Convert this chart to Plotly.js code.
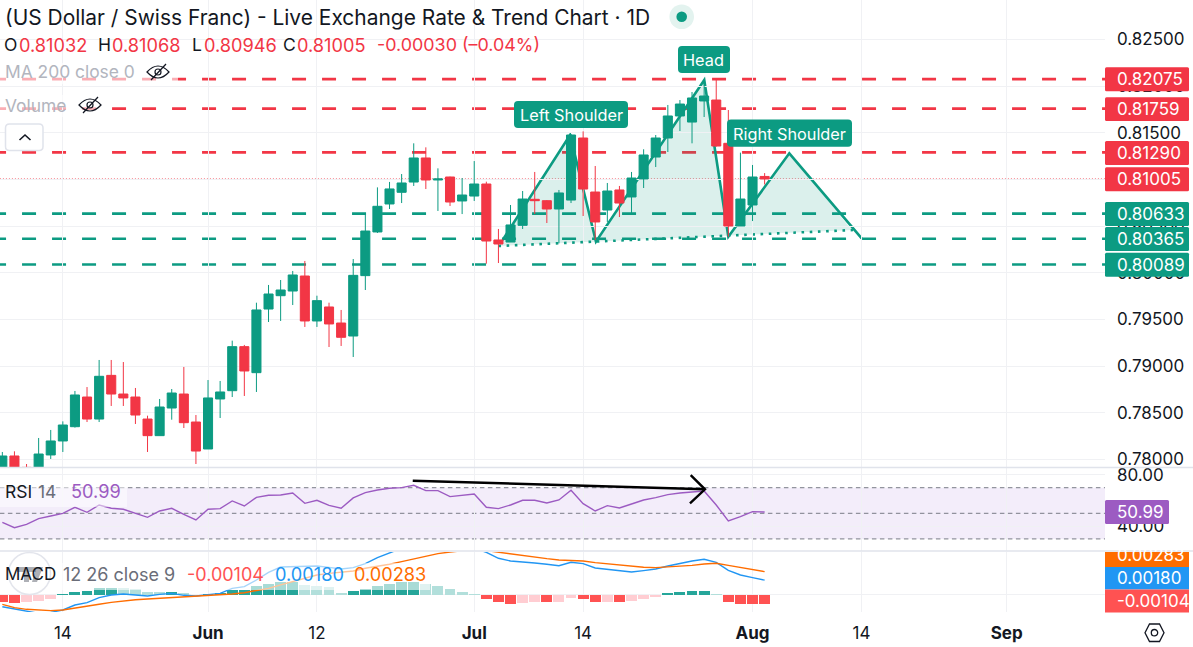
<!DOCTYPE html>
<html>
<head>
<meta charset="utf-8">
<script src="https://cdn.plot.ly/plotly-3.0.1.min.js"></script>
<style>
  html, body { margin: 0; padding: 0; background: #fff; }
  #chart { width: 1193px; height: 647px; }
</style>
</head>
<body>
<div id="chart"></div>
<script>
const open = [0.77814,0.78036,0.77914,0.77886,0.78047,0.78197,0.7835,0.78668,0.78432,0.789,0.787,0.78668,0.78432,0.78254,0.7855,0.787,0.784,0.78111,0.78647,0.78736,0.79208,0.78929,0.79611,0.79754,0.79804,0.79965,0.79483,0.79633,0.79461,0.79322,0.79969,0.80437,0.80737,0.80862,0.80972,0.8123,0.80994,0.81026,0.80769,0.80822,0.80951,0.80351,0.80329,0.80508,0.80787,0.80772,0.80683,0.80779,0.81444,0.80865,0.80672,0.80887,0.80812,0.81005,0.8124,0.81444,0.8168,0.81615,0.81841,0.81851,0.81387,0.80501,0.80726,0.81032];
const high = [0.78079,0.78086,0.7795,0.78229,0.78315,0.78407,0.78733,0.78775,0.79065,0.79065,0.79043,0.78765,0.78468,0.78647,0.78754,0.7899,0.78475,0.7885,0.7884,0.79272,0.79226,0.79679,0.79869,0.79922,0.80019,0.80126,0.79754,0.79679,0.79601,0.80147,0.80619,0.80915,0.80973,0.81058,0.81387,0.81344,0.81119,0.8103,0.81015,0.81197,0.80976,0.80469,0.80726,0.80876,0.8108,0.80779,0.80887,0.81487,0.81515,0.81144,0.80962,0.8093,0.8108,0.81323,0.81476,0.81798,0.81851,0.81937,0.82066,0.82066,0.81744,0.81287,0.81155,0.81068];
const low = [0.77797,0.77797,0.77797,0.7785,0.78004,0.78079,0.7834,0.784,0.784,0.78572,0.78572,0.78379,0.78079,0.78254,0.78425,0.78336,0.7795,0.78111,0.78443,0.78668,0.78679,0.78722,0.79472,0.79483,0.79654,0.79419,0.79419,0.79204,0.79215,0.79097,0.79815,0.80426,0.80683,0.80747,0.8093,0.80897,0.80662,0.80715,0.80629,0.80769,0.80097,0.80104,0.80329,0.80469,0.80629,0.80533,0.80315,0.80747,0.80608,0.80351,0.80544,0.80597,0.80629,0.80908,0.81133,0.81294,0.81519,0.81387,0.81669,0.81351,0.80386,0.80501,0.80554,0.80946];
const close = [0.78036,0.77814,0.77814,0.78057,0.78197,0.78368,0.7869,0.78432,0.7889,0.787,0.78658,0.78475,0.78254,0.78561,0.78711,0.78393,0.78089,0.78658,0.78722,0.79208,0.78947,0.79601,0.79772,0.79815,0.79976,0.79483,0.79701,0.79451,0.79308,0.79972,0.80447,0.80712,0.80898,0.80962,0.8123,0.80994,0.81005,0.80758,0.80833,0.80951,0.8034,0.80308,0.80512,0.8079,0.80772,0.80683,0.80855,0.81476,0.80897,0.80544,0.80876,0.80747,0.81015,0.81262,0.81444,0.8168,0.81808,0.81873,0.81894,0.81358,0.80501,0.8079,0.81026,0.81005];

const rsi = [42.97,38.8,41.41,45.83,47.92,50,54.69,50.78,56.51,53.91,53.13,50,46.88,51.82,53.91,49.22,44.79,53.13,53.65,59.64,55.73,62.5,64.06,64.32,65.89,57.81,60.16,56.25,53.91,61.98,66.15,68.23,69.53,70.05,71.88,67.71,67.71,63.02,64.06,65.1,54.69,53.65,56.51,60.16,60.16,58.07,60.42,67.97,57.55,51.82,55.99,54.17,57.29,60.42,62.24,64.58,65.89,66.67,67.45,56.51,44.01,47.4,51.3,50.99];

const macdLine = [-0.00142,-0.0017,-0.00203,-0.00223,-0.00211,-0.00182,-0.00122,-0.00093,-0.00032,0,0.00012,0,-0.00012,0.00008,0.0002,-0.00004,-0.00012,0.00004,0.0002,0.00081,0.00101,0.00182,0.00275,0.0034,0.00344,0.00352,0.00352,0.00336,0.00316,0.00332,0.00381,0.00454,0.00518,0.00567,0.00608,0.00624,0.00624,0.00608,0.00591,0.00567,0.00518,0.00446,0.00413,0.00405,0.00389,0.00373,0.00356,0.00397,0.00381,0.00328,0.00312,0.00288,0.00279,0.00296,0.00316,0.00352,0.00385,0.00413,0.00433,0.00397,0.003,0.00243,0.00211,0.0018];
const signalLine = [-0.00113,-0.00154,-0.00174,-0.00186,-0.0019,-0.00182,-0.00162,-0.00142,-0.00113,-0.00089,-0.00069,-0.00057,-0.00049,-0.00041,-0.00032,-0.00028,-0.0002,-0.00012,0,0.00012,0.00028,0.00053,0.00081,0.00122,0.00162,0.00203,0.00243,0.00263,0.00275,0.00292,0.00324,0.00344,0.00373,0.00405,0.00437,0.00478,0.00502,0.00522,0.00539,0.00551,0.00539,0.00518,0.00498,0.00478,0.00458,0.00441,0.00425,0.00417,0.00413,0.00393,0.00377,0.0036,0.00344,0.00336,0.00332,0.0034,0.00348,0.0036,0.00377,0.00385,0.0036,0.00336,0.00312,0.00283];
const histogram = [-0.00081,-0.00097,-0.00089,-0.00069,-0.00049,0.00008,0.00041,0.00049,0.00081,0.00081,0.00089,0.00069,0.00041,0.00032,0.00041,0.0002,0.00004,0.00008,0.00024,0.00057,0.00057,0.00105,0.00134,0.00162,0.00162,0.00122,0.00113,0.00093,0.00028,0.00049,0.00069,0.00113,0.00134,0.00154,0.00158,0.00134,0.00109,0.00073,0.00041,0.00012,-0.00049,-0.00089,-0.00105,-0.00097,-0.00089,-0.00089,-0.00085,-0.00036,-0.00049,-0.00085,-0.00085,-0.00089,-0.00073,-0.00049,-0.00024,0.00028,0.00041,0.00053,0.00049,0.00012,-0.00081,-0.00115,-0.00115,-0.00104];
// 1 = momentum growing (solid bar), 0 = fading (pale bar)
const histGrowing = [1,1,0,0,0,1,1,1,1,1,0,0,0,0,1,0,0,1,1,1,1,1,1,1,1,0,0,0,0,1,1,1,1,1,1,0,0,0,0,0,1,1,1,0,0,1,0,0,1,1,0,1,0,0,0,1,1,1,1,0,1,1,1,1];

const redLevels = [0.82075, 0.81759, 0.8129];
const greenLevels = [0.80633, 0.80365, 0.80089];
const lastPrice = 0.81005;
const priceTicks = [0.78, 0.785, 0.79, 0.795, 0.8, 0.805, 0.81, 0.815, 0.82, 0.825];
const rsiTicks = [40, 80];
const rsiBands = [70, 50, 30];

const timeTicks = [5, 17, 26, 39, 48, 62, 71, 83];
const timeLabels = ["14", "<b>Jun</b>", "12", "<b>Jul</b>", "14", "<b>Aug</b>", "14", "<b>Sep</b>"];

// head and shoulders drawing: bar index / price
const patternX = [41.35, 46.92, 49.06, 58.01, 60, 65.04, 71.02];
const patternY = [0.80351, 0.81476, 0.80333, 0.82066, 0.80386, 0.8128, 0.80369];
const necklineX = [41, 70.3];
const necklineY = [0.80287, 0.80458];
const fillEnd = [70.2, 0.80458];

// the hand drawn arrow on the RSI pane
const arrowLineX = [33.92, 58.07];
const arrowLineY = [75.47, 68.75];
const arrowHeadX = [56.89, 58.07, 56.83];
const arrowHeadY = [79.9, 68.75, 57.8];

const W = 1193;
const H = 647;
const PLOT_RIGHT = 1105;
const GREEN = "#0c9b82";
const RED = "#f23645";
const PURPLE = "#9c5bc2";
const INK = "#131722";
const GRID = "#f0f1f4";
const FONT = "Inter, 'Noto Sans', sans-serif";

const xs = open.map((_, i) => i);
const px = (x, y) => `${x / W},${1 - y / H}`;

function pathShape(d, fill, lineColor, lineWidth) {
  return {
    type: "path",
    xref: "paper",
    yref: "paper",
    layer: "above",
    path: d,
    fillcolor: fill || "rgba(0,0,0,0)",
    line: { color: lineColor || "rgba(0,0,0,0)", width: lineWidth || 0 },
  };
}

function roundRect(x0, y0, x1, y1, r, fill, lineColor) {
  const d =
    `M${px(x0 + r, y0)} L${px(x1 - r, y0)} Q${px(x1, y0)} ${px(x1, y0 + r)} ` +
    `L${px(x1, y1 - r)} Q${px(x1, y1)} ${px(x1 - r, y1)} ` +
    `L${px(x0 + r, y1)} Q${px(x0, y1)} ${px(x0, y1 - r)} ` +
    `L${px(x0, y0 + r)} Q${px(x0, y0)} ${px(x0 + r, y0)} Z`;
  return pathShape(d, fill, lineColor, lineColor ? 1.5 : 0);
}

function circle(cx, cy, r, fill, lineColor, lineWidth) {
  return {
    type: "circle",
    xref: "paper",
    yref: "paper",
    layer: "above",
    x0: (cx - r) / W,
    x1: (cx + r) / W,
    y0: 1 - (cy + r) / H,
    y1: 1 - (cy - r) / H,
    fillcolor: fill || "rgba(0,0,0,0)",
    line: { color: lineColor || "rgba(0,0,0,0)", width: lineWidth || 0 },
  };
}

function eye(cx, cy) {
  const lens =
    `M${px(cx - 11, cy)} Q${px(cx, cy - 12)} ${px(cx + 11, cy)} ` +
    `Q${px(cx, cy + 12)} ${px(cx - 11, cy)} Z`;
  const slash = `M${px(cx - 7, cy + 8)} L${px(cx + 8, cy - 8)}`;
  return [
    pathShape(lens, null, INK, 1.2),
    circle(cx, cy, 3, null, INK, 1.2),
    pathShape(slash, null, INK, 1.2),
  ];
}

function label(x, y, text, color, size, anchor) {
  return {
    xref: "paper",
    yref: "paper",
    x: x / W,
    y: 1 - y / H,
    text,
    showarrow: false,
    xanchor: anchor || "left",
    yanchor: "middle",
    borderpad: 0,
    font: { family: FONT, color, size },
  };
}

function levelLine(y, color) {
  return {
    type: "line",
    xref: "x",
    yref: "y",
    layer: "below",
    x0: -0.85,
    x1: 91.13,
    y0: y,
    y1: y,
    line: { color, width: 2.6, dash: "14px,16px" },
  };
}

const patternPath =
  `M${necklineX[0]},${necklineY[0]} ` +
  patternX.slice(0, 6).map((x, i) => `L${x},${patternY[i]}`).join(" ") +
  ` L${fillEnd[0]},${fillEnd[1]} Z`;

const shapes = [
  ...redLevels.map((y) => levelLine(y, RED)),
  ...greenLevels.map((y) => levelLine(y, GREEN)),
  {
    type: "line", xref: "x", yref: "y", layer: "below",
    x0: -0.2, x1: 91.13, y0: lastPrice, y1: lastPrice,
    line: { color: RED, width: 1, dash: "1px,2px" },
  },
  {
    type: "path", xref: "x", yref: "y", layer: "below",
    path: patternPath,
    fillcolor: "rgba(12,155,130,0.15)",
    line: { width: 0 },
  },
  {
    type: "path", xref: "x", yref: "y", layer: "below",
    path: "M" + patternX.map((x, i) => `${x},${patternY[i]}`).join(" L"),
    line: { color: GREEN, width: 2.6 },
  },
  {
    type: "line", xref: "x", yref: "y", layer: "below",
    x0: necklineX[0], x1: necklineX[1], y0: necklineY[0], y1: necklineY[1],
    line: { color: GREEN, width: 2.6, dash: "2.6px,5.6px" },
  },
  {
    type: "rect", xref: "x", yref: "y2", layer: "below",
    x0: -0.2, x1: 91.13, y0: rsiBands[2], y1: rsiBands[0],
    fillcolor: "#f3edfa",
    line: { width: 0 },
  },
  ...rsiBands.map((y) => ({
    type: "line", xref: "x", yref: "y2", layer: "below",
    x0: -0.2, x1: 91.13, y0: y, y1: y,
    line: { color: "#787b86", width: 1, dash: "4.5px,3.5px" },
  })),

  // pane separators
  pathShape(`M${px(0, 467.5)} L${px(W, 467.5)}`, null, "#e0e3eb", 1.6),
  pathShape(`M${px(0, 551)} L${px(W, 551)}`, null, "#e0e3eb", 1.6),

  // legend backdrops wash out whatever runs behind the text
  pathShape(`M${px(0, 63)} L${px(178, 63)} L${px(178, 84)} L${px(0, 84)} Z`, "rgba(255,255,255,0.6)"),
  pathShape(`M${px(0, 95)} L${px(112, 95)} L${px(112, 117)} L${px(0, 117)} Z`, "rgba(255,255,255,0.6)"),
  pathShape(`M${px(0, 480)} L${px(127, 480)} L${px(127, 507)} L${px(0, 507)} Z`, "rgba(255,255,255,0.5)"),
  pathShape(`M${px(0, 563)} L${px(430, 563)} L${px(430, 590)} L${px(0, 590)} Z`, "rgba(255,255,255,0.6)"),

  // status dot, eyes, collapse button
  circle(681.7, 16.7, 12.3, "#e3f3ef"),
  circle(681.7, 16.7, 5.3, "#0c9b82"),
  ...eye(158, 72),
  ...eye(90, 105),
  roundRect(5.5, 124, 43, 150.5, 4, "#ffffff", "#e0e3eb"),
  pathShape(`M${px(19.5, 140)} L${px(25, 135)} L${px(30.5, 140)}`, null, INK, 1.6),

  // faded logo under the MACD legend
  circle(29.5, 573.5, 21, "rgba(255,255,255,0.3)", "#e3e5ec", 1.5),
  pathShape(`M${px(17, 567)} L${px(36, 567)} L${px(36, 572)} L${px(29, 572)} L${px(29, 582)} L${px(24, 582)} L${px(24, 572)} L${px(17, 572)} Z`, "rgba(120,123,134,0.6)"),
  pathShape(`M${px(36, 567)} L${px(43, 567)} L${px(37, 582)} L${px(32, 582)} Z`, "rgba(120,123,134,0.6)"),

  // pattern tags
  roundRect(514, 101, 628, 128, 4, GREEN),
  roundRect(678, 46, 730, 73, 4, GREEN),
  roundRect(727, 119.5, 852, 146.7, 4, GREEN),

  // price scale tags
  roundRect(1105, 67.3, 1189, 91.3, 1.5, RED),
  roundRect(1105, 97.3, 1189, 121, 1.5, RED),
  roundRect(1105, 141, 1189, 165, 1.5, RED),
  roundRect(1105, 167.3, 1189, 191.3, 1.5, RED),
  roundRect(1105, 202, 1189, 226, 1.5, GREEN),
  roundRect(1105, 227, 1189, 251, 1.5, GREEN),
  roundRect(1105, 252.7, 1189, 276.7, 1.5, GREEN),
  roundRect(1105, 500, 1169, 524, 1.5, PURPLE),
  pathShape(`M${px(1105, 552)} L${px(1189, 552)} L${px(1189, 567)} L${px(1105, 567)} Z`, "#ff6d00"),
  pathShape(`M${px(1105, 567)} L${px(1189, 567)} L${px(1189, 589.5)} L${px(1105, 589.5)} Z`, "#2196f3"),
  pathShape(`M${px(1105, 589.5)} L${px(1189, 589.5)} L${px(1189, 612.6)} L${px(1105, 612.6)} Z`, "#ff5252"),

  // settings hexagon
  pathShape(
    `M${px(1145, 632.7)} L${px(1149.5, 624)} L${px(1159.5, 624)} L${px(1164, 632.7)} L${px(1159.5, 641.5)} L${px(1149.5, 641.5)} Z`,
    null, INK, 1.3,
  ),
  circle(1154.5, 632.7, 3.2, null, INK, 1.3),
];

const annotations = [
  label(4, 18, "(US Dollar / Swiss Franc) - Live Exchange Rate &amp; Trend Chart · 1D", INK, 20.95),

  label(3, 45, "O", INK, 17.5),
  label(18, 45, "0.81032", RED, 18.2),
  label(97, 45, "H", INK, 17.5),
  label(111, 45, "0.81068", RED, 18.2),
  label(191, 45, "L", INK, 17.5),
  label(203, 45, "0.80946", RED, 18.2),
  label(282, 45, "C", INK, 17.5),
  label(296, 45, "0.81005", RED, 18.2),
  label(376, 45, "-0.00030 (–0.04%)", RED, 17.9),

  label(4, 72, "MA 200 close 0", "#b2b5be", 17.4),
  label(4, 105, "Volume", "#b2b5be", 17.4),

  label(4, 491, "RSI", INK, 17.5),
  label(37, 491, "14", "#6a6d78", 17.5),
  label(70, 491, "50.99", PURPLE, 18.2),

  label(4, 574, "MACD", INK, 17),
  label(62, 574, "12 26 close 9", "#6a6d78", 18),
  label(186, 574, "-0.00104", "#ff5252", 18),
  label(274, 574, "0.00180", "#2196f3", 18.2),
  label(353, 574, "0.00283", "#ff6d00", 18.2),

  label(571, 115, "Left Shoulder", "#fff", 16.3, "center"),
  label(704, 60, "Head", "#fff", 16.3, "center"),
  label(789.5, 134, "Right Shoulder", "#fff", 16.3, "center"),

  ...[
    [79.3, redLevels[0]],
    [109, redLevels[1]],
    [153, redLevels[2]],
    [179.3, lastPrice],
    [214, greenLevels[0]],
    [239, greenLevels[1]],
    [264.7, greenLevels[2]],
  ].map(([y, value]) => label(1116, y, value.toFixed(5), "#fff", 17)),
  label(1116, 512, "50.99", "#fff", 17),
  label(1116, 555, "0.00283", "#fff", 17),
  label(1116, 578, "0.00180", "#fff", 17),
  label(1116, 601, "-0.00104", "#fff", 17),
];

const traces = [
  {
    type: "candlestick",
    x: xs,
    open,
    high,
    low,
    close,
    xaxis: "x",
    yaxis: "y",
    whiskerwidth: 0,
    hoverinfo: "skip",
    increasing: { line: { color: GREEN, width: 1 }, fillcolor: GREEN },
    decreasing: { line: { color: RED, width: 1 }, fillcolor: RED },
  },
  {
    type: "scatter",
    mode: "lines",
    x: xs,
    y: rsi,
    xaxis: "x",
    yaxis: "y2",
    hoverinfo: "skip",
    line: { color: PURPLE, width: 1.4 },
  },
  {
    type: "scatter",
    mode: "lines",
    x: arrowLineX,
    y: arrowLineY,
    xaxis: "x",
    yaxis: "y2",
    hoverinfo: "skip",
    line: { color: "#000", width: 2.4 },
  },
  {
    type: "scatter",
    mode: "lines",
    x: arrowHeadX,
    y: arrowHeadY,
    xaxis: "x",
    yaxis: "y2",
    hoverinfo: "skip",
    line: { color: "#000", width: 2.4 },
  },
  {
    type: "bar",
    x: xs,
    y: histogram,
    xaxis: "x",
    yaxis: "y3",
    width: 0.9,
    hoverinfo: "skip",
    marker: {
      color: histogram.map((v, i) => {
        if (v >= 0) {
          return histGrowing[i] ? "#26a69a" : "#b2dfdb";
        }
        return histGrowing[i] ? "#ff5252" : "#ffcdd2";
      }),
      line: { width: 0 },
    },
  },
  {
    type: "scatter",
    mode: "lines",
    x: xs,
    y: macdLine,
    xaxis: "x",
    yaxis: "y3",
    hoverinfo: "skip",
    line: { color: "#2196f3", width: 1.4 },
  },
  {
    type: "scatter",
    mode: "lines",
    x: xs,
    y: signalLine,
    xaxis: "x",
    yaxis: "y3",
    hoverinfo: "skip",
    line: { color: "#ff6d00", width: 1.4 },
  },
];

const sideAxis = {
  side: "right",
  anchor: "x",
  showline: false,
  zeroline: false,
  ticks: "",
  ticklabelstandoff: 11,
  gridcolor: GRID,
  gridwidth: 1,
  tickfont: { family: FONT, color: INK, size: 17 },
  fixedrange: true,
};

const layout = {
  width: W,
  height: H,
  margin: { l: 0, r: 0, t: 0, b: 0 },
  paper_bgcolor: "#ffffff",
  plot_bgcolor: "#ffffff",
  showlegend: false,
  dragmode: false,
  boxgap: 0.25,
  boxgroupgap: 0,
  bargap: 0,
  font: { family: FONT, color: INK },
  xaxis: {
    domain: [0, PLOT_RIGHT / W],
    range: [-0.193, 91.13],
    anchor: "y3",
    rangeslider: { visible: false },
    tickmode: "array",
    tickvals: timeTicks,
    ticktext: timeLabels,
    ticks: "",
    ticklabelstandoff: 9,
    showline: false,
    zeroline: false,
    gridcolor: GRID,
    gridwidth: 1,
    tickfont: { family: FONT, color: INK, size: 17 },
    fixedrange: true,
  },
  yaxis: {
    ...sideAxis,
    domain: [(H - 467) / H, 1],
    range: [0.77918, 0.82923],
    tickmode: "array",
    tickvals: priceTicks,
    ticktext: priceTicks.map((v) => v.toFixed(5)),
  },
  yaxis2: {
    ...sideAxis,
    domain: [(H - 551) / H, (H - 468) / H],
    range: [20.55, 85.4],
    tickmode: "array",
    tickvals: rsiTicks,
    ticktext: rsiTicks.map((v) => v.toFixed(2)),
  },
  yaxis3: {
    ...sideAxis,
    domain: [(H - 612) / H, (H - 552) / H],
    range: [-0.002065, 0.00522],
    tickmode: "array",
    tickvals: [0],
    ticktext: [""],
  },
  shapes,
  annotations,
};

Plotly.newPlot("chart", traces, layout, { displayModeBar: false, staticPlot: true });
</script>
</body>
</html>
